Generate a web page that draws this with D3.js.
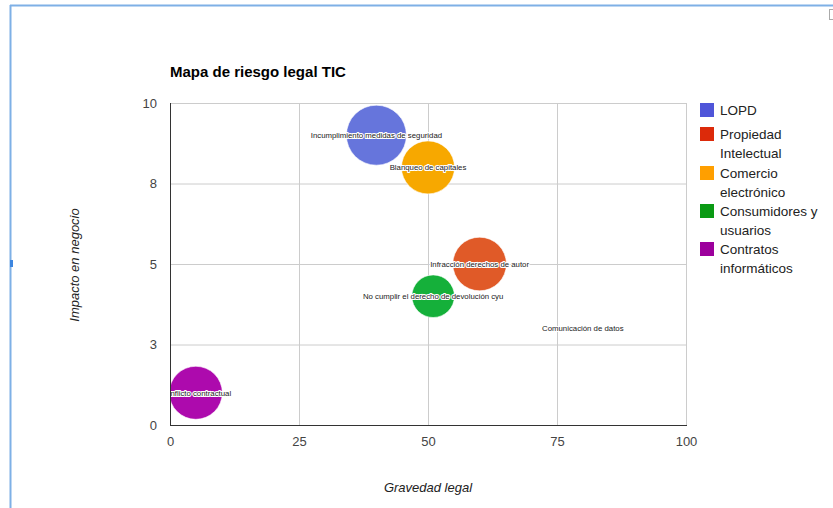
<!DOCTYPE html>
<html>
<head>
<meta charset="utf-8">
<script src="https://cdn.jsdelivr.net/npm/d3@7"></script>
<style>
  html, body { margin: 0; padding: 0; background: #fff; }
  svg { display: block; font-family: "Liberation Sans", Arial, sans-serif; }
</style>
</head>
<body>
<svg id="chart" width="833" height="508"></svg>
<script>
// ---- data ----
const seriesNames = ["LOPD", "Propiedad Intelectual", "Comercio electrónico", "Consumidores y usuarios", "Contratos informáticos"];
const legendLines = [["LOPD"], ["Propiedad", "Intelectual"], ["Comercio", "electrónico"], ["Consumidores y", "usuarios"], ["Contratos", "informáticos"]];
const legendColors = ["#4f55d9", "#dc2a0a", "#ff9f00", "#0a9a14", "#9c009c"];
const bubbleColors = ["#6675dc", "#e05a28", "#f7a800", "#15b03a", "#ad0aad"];

const labels   = ["Incumplimiento medidas de seguridad", "Blanqueo de capitales", "Infracción derechos de autor", "No cumplir el derecho de devolución cyu", "Comunicación de datos", "Conflicto contractual"];
const gravedad = [40, 50, 60, 51, 80, 5];
const impacto  = [9, 8, 5, 4, 3, 1];
const series   = [0, 2, 1, 3, 0, 4];
const sizes    = [10, 8.8, 8.9, 7, 0, 8.8];

const xTicks = [0, 25, 50, 75, 100];
const xTickLabels = ["0", "25", "50", "75", "100"];
const yTicks = [0, 2.5, 5, 7.5, 10];
const yTickLabels = ["0", "3", "5", "8", "10"];

// ---- layout ----
const svg = d3.select("#chart");
const L = 170, R = 686, T = 103, B = 425;
const x = d3.scaleLinear().domain([0, 100]).range([L, R]);
const y = d3.scaleLinear().domain([0, 10]).range([B, T]);
const r = d3.scaleLinear().domain([0, 10]).range([1, 30]);

// outer frame (editor selection)
svg.append("line").attr("x1", 10).attr("x2", 833).attr("y1", 5.5).attr("y2", 5.5)
  .attr("stroke", "#7eb0e6").attr("stroke-width", 2);
svg.append("line").attr("x1", 10.5).attr("x2", 10.5).attr("y1", 5).attr("y2", 508)
  .attr("stroke", "#7eb0e6").attr("stroke-width", 2);
svg.append("rect").attr("x", 10).attr("y", 260).attr("width", 3).attr("height", 7).attr("fill", "#3c86e0");
svg.append("rect").attr("x", 829.5).attr("y", 9.5).attr("width", 6).attr("height", 10)
  .attr("fill", "#fff").attr("stroke", "#aaa");

// title
svg.append("text").attr("x", 170).attr("y", 77)
  .attr("font-size", 15).attr("font-weight", "bold").attr("fill", "#000")
  .text("Mapa de riesgo legal TIC");

// gridlines
const grid = svg.append("g");
grid.selectAll("line.v").data(xTicks).join("line")
  .attr("x1", d => x(d) + 0.5).attr("x2", d => x(d) + 0.5).attr("y1", T).attr("y2", B)
  .attr("stroke", "#cccccc");
grid.selectAll("line.h").data(yTicks).join("line")
  .attr("x1", L).attr("x2", R).attr("y1", d => y(d) + 0.5).attr("y2", d => y(d) + 0.5)
  .attr("stroke", "#cccccc");

// axes (labels only)
const xAxis = d3.axisBottom(x).tickValues(xTicks).tickFormat((d, i) => xTickLabels[i]).tickSize(0).tickPadding(12);
const gx = svg.append("g").attr("transform", `translate(0,${B})`).call(xAxis);
gx.select(".domain").remove();
gx.selectAll("text").attr("font-size", 13).attr("fill", "#444").attr("font-family", "Liberation Sans, Arial, sans-serif");

const yAxis = d3.axisLeft(y).tickValues(yTicks).tickFormat((d, i) => yTickLabels[i]).tickSize(0).tickPadding(13);
const gy = svg.append("g").attr("transform", `translate(${L},0)`).call(yAxis);
gy.select(".domain").remove();
gy.selectAll("text").attr("font-size", 13).attr("fill", "#444").attr("font-family", "Liberation Sans, Arial, sans-serif");

// clip
svg.append("defs").append("clipPath").attr("id", "plotclip")
  .append("rect").attr("x", L).attr("y", T).attr("width", R - L).attr("height", B - T);

const idx = d3.range(labels.length);
const plot = svg.append("g").attr("clip-path", "url(#plotclip)");
plot.selectAll("circle").data(idx).join("circle")
  .attr("cx", i => x(gravedad[i])).attr("cy", i => y(impacto[i])).attr("r", i => r(sizes[i]))
  .attr("fill", i => sizes[i] === 0 ? "#c8c8d0" : bubbleColors[series[i]])
  .attr("stroke", "#ffffff").attr("stroke-opacity", 0.6).attr("stroke-width", 1);

plot.selectAll("text.halo").data(idx).join("text")
  .attr("x", i => x(gravedad[i])).attr("y", i => y(impacto[i]) + 3)
  .attr("text-anchor", "middle").attr("font-size", 7.8)
  .attr("fill", "none").attr("stroke", "#ffffff").attr("stroke-width", 2.2).attr("stroke-linejoin", "round")
  .text(i => labels[i]);
plot.selectAll("text.lbl").data(idx).join("text")
  .attr("x", i => x(gravedad[i])).attr("y", i => y(impacto[i]) + 3)
  .attr("text-anchor", "middle").attr("font-size", 7.8).attr("fill", "#222")
  .text(i => labels[i]);

// axis lines (left & bottom, darker)
svg.append("line").attr("x1", L + 0.5).attr("x2", L + 0.5).attr("y1", T).attr("y2", B + 1).attr("stroke", "#333");
svg.append("line").attr("x1", L).attr("x2", R + 1).attr("y1", B + 0.5).attr("y2", B + 0.5).attr("stroke", "#333");

// axis titles
svg.append("text").attr("x", 428).attr("y", 492).attr("text-anchor", "middle")
  .attr("font-size", 13).attr("font-style", "italic").attr("fill", "#222").text("Gravedad legal");
svg.append("text").attr("transform", "translate(79,265) rotate(-90)").attr("text-anchor", "middle")
  .attr("font-size", 13).attr("font-style", "italic").attr("fill", "#222").text("Impacto en negocio");

// legend
const legendTops = [103, 127, 166, 204, 242];
const lg = svg.append("g");
seriesNames.forEach((name, i) => {
  lg.append("rect").attr("x", 700).attr("y", legendTops[i]).attr("width", 14).attr("height", 14)
    .attr("fill", legendColors[i]);
  const t = lg.append("text").attr("x", 720).attr("y", legendTops[i] + 12)
    .attr("font-size", 13.5).attr("fill", "#222");
  legendLines[i].forEach((ln, j) => {
    t.append("tspan").attr("x", 720).attr("dy", j === 0 ? 0 : 19).text(ln);
  });
});
</script>
</body>
</html>
